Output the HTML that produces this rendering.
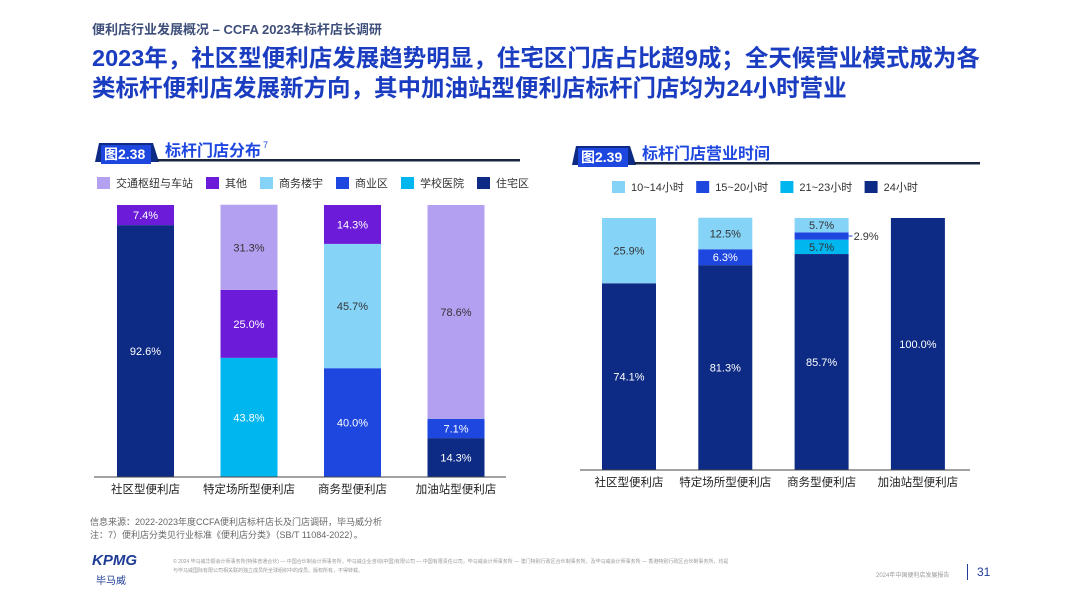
<!DOCTYPE html>
<html><head><meta charset="utf-8">
<style>
body{margin:0;width:1080px;height:608px;background:#fff;position:relative;overflow:hidden;font-family:"Liberation Sans","Noto Sans CJK SC",sans-serif;}
.abs{position:absolute;}
</style></head><body>
<div class="abs" style="left:92px;top:19px;font-size:13px;font-weight:bold;color:#3d4e7a;">便利店行业发展概况 – CCFA 2023年标杆店长调研</div>
<div class="abs" style="left:92px;top:43px;font-size:23.5px;font-weight:bold;color:#1a3cc0;line-height:30px;width:905px;">2023年，社区型便利店发展趋势明显，住宅区门店占比超9成；全天候营业模式成为各类标杆便利店发展新方向，其中加油站型便利店标杆门店均为24小时营业</div>
<svg class="abs" style="left:0;top:0" width="1080" height="608">
<g id="g1"></g><g id="g2"></g>
</svg>
<div class="abs" style="left:90px;top:516px;font-size:9px;color:#666;line-height:13px;">信息来源：2022-2023年度CCFA便利店标杆店长及门店调研，毕马威分析<br>注：7）便利店分类见行业标准《便利店分类》（SB/T 11084-2022）。</div>
<div class="abs" style="left:92px;top:552px;font-size:15px;font-weight:bold;font-style:italic;color:#1e3c96;">KPMG</div>
<div class="abs" style="left:96px;top:572px;font-size:10px;color:#1e3c96;">毕马威</div>
<div class="abs" style="left:173px;top:558px;font-size:5px;color:#999;line-height:9px;width:560px;">© 2024 毕马威华振会计师事务所(特殊普通合伙) — 中国合伙制会计师事务所，毕马威企业咨询(中国)有限公司 — 中国有限责任公司，毕马威会计师事务所 — 澳门特别行政区合伙制事务所，及毕马威会计师事务所 — 香港特别行政区合伙制事务所，均是与毕马威国际有限公司相关联的独立成员所全球组织中的成员。版权所有，不得转载。</div>
<div class="abs" style="left:876px;top:570px;font-size:6px;color:#999;">2024年中国便利店发展报告</div>
<div class="abs" style="left:967px;top:564px;width:1px;height:16px;background:#1e3c96;"></div>
<div class="abs" style="left:977px;top:565px;font-size:12px;color:#1e3c96;">31</div>
<script>
const NS="http://www.w3.org/2000/svg";
function mk(p,t,a){const e=document.createElementNS(NS,t);for(const k in a)e.setAttribute(k,a[k]);p.appendChild(e);return e;}
// Chart 1 data
const cats1=["社区型便利店","特定场所型便利店","商务型便利店","加油站型便利店"];
const series1=["住宅区","学校医院","商业区","商务楼宇","其他","交通枢纽与车站"];
const colors1=["#0d2b84","#00b6ef","#1e47e0","#86d3f8","#6c1cd9","#b4a0f0"];
const dark1=[true,true,true,false,true,false];
const v_zhuzhai=[92.6,0,0,14.3];
const v_xuexiao=[0,43.8,0,0];
const v_shangye=[0,0,40.0,7.1];
const v_shangwu=[0,0,45.7,0];
const v_qita=[7.4,25.0,14.3,0];
const v_jiaotong=[0,31.3,0,78.6];
const vals1=[v_zhuzhai,v_xuexiao,v_shangye,v_shangwu,v_qita,v_jiaotong];
const legendOrder1=[5,4,3,2,1,0];
// Chart 2 data
const cats2=["社区型便利店","特定场所型便利店","商务型便利店","加油站型便利店"];
const series2=["24小时","21~23小时","15~20小时","10~14小时"];
const colors2=["#0d2b84","#00b6ef","#1e47e0","#86d3f8"];
const dark2=[true,false,true,false];
const h24=[74.1,81.3,85.7,100.0];
const h21=[0,0,5.7,0];
const h15=[0,6.3,2.9,0];
const h10=[25.9,12.5,5.7,0];
const vals2=[h24,h21,h15,h10];
const legendOrder2=[3,2,1,0];

function header(g,x,y,w,num,title,sup){
  const b=mk(g,"path",{d:`M${x+4} ${y} L${x+58} ${y} L${x+64} ${y+19} L${x} ${y+19} Z`,fill:"#0d2b84"});
  
  mk(g,"rect",{x:x+6,y:y+2,width:50,height:19,fill:"#1e47e0"});
  const t=mk(g,"text",{x:x+9,y:y+16,fill:"#fff","font-size":14,"font-weight":"bold"});t.textContent=num;
  
  const tt=mk(g,"text",{x:x+70,y:y+13,fill:"#1e47e0","font-size":16,"font-weight":"bold"});tt.textContent=title;
  
  if(sup){const s=mk(g,"text",{x:x+168,y:y+5,fill:"#1e47e0","font-size":9});s.textContent=sup;}
  const l=mk(g,"rect",{x:x+62,y:y+16,width:w-62,height:2.5,fill:"#1a2540"});
  
}
function chart(g,o){
  const yScale=v=>o.base-v/100*o.H;
  o.cats.forEach((c,i)=>{
    const x=o.x0+i*o.step;let acc=0;
    o.vals.forEach((arr,s)=>{
      const v=arr[i];if(!v)return;
      const y1=yScale(acc+v),y0=yScale(acc);acc+=v;
      const r=mk(g,"rect",{x:x,y:y1,width:o.bw,height:y0-y1,fill:o.colors[s]});
      
      const label=v.toFixed(1)+"%";
      if(o.outside&&y0-y1<8){
        mk(g,"line",{x1:x+o.bw,y1:(y0+y1)/2,x2:x+o.bw+4,y2:(y0+y1)/2,stroke:"#1e47e0"});
        const t=mk(g,"text",{x:x+o.bw+5,y:(y0+y1)/2+4,fill:"#333","font-size":11});t.textContent=label;
        
      }else{
        const t=mk(g,"text",{x:x+o.bw/2,y:(y0+y1)/2+4,fill:o.dark[s]?"#fff":"#333","font-size":11,"text-anchor":"middle"});t.textContent=label;
        
      }
    });
    const ct=mk(g,"text",{x:x+o.bw/2,y:o.base+16,fill:"#222","font-size":11.5,"text-anchor":"middle"});ct.textContent=c;
    
  });
  const ax=mk(g,"line",{x1:o.ax0,y1:o.base,x2:o.ax1,y2:o.base,stroke:"#444","stroke-width":1});
  
  let lx=o.lx;
  o.legend.forEach(s=>{
    const r=mk(g,"rect",{x:lx,y:o.ly-6,width:13,height:12,fill:o.colors[s]});
    
    const t=mk(g,"text",{x:lx+19,y:o.ly+4,fill:"#333","font-size":11});t.textContent=o.series[s];
    
    lx+=19+o.series[s].length*o.cw+o.gap;
  });
}
const g1=document.getElementById("g1"),g2=document.getElementById("g2");
header(g1,95,143,425,"图2.38","标杆门店分布","7");
header(g2,572,146,408,"图2.39","标杆门店营业时间","");
chart(g1,{cats:cats1,vals:vals1,colors:colors1,dark:dark1,series:series1,legend:legendOrder1,x0:117,step:103.5,bw:57,base:477,H:272,ax0:94,ax1:506,lx:97,ly:183,cw:11,gap:13});
chart(g2,{cats:cats2,vals:vals2,colors:colors2,dark:dark2,series:series2,legend:legendOrder2,x0:602,step:96.3,bw:54,base:470,H:252,ax0:580,ax1:970,lx:612,ly:187,cw:7.6,gap:12,outside:true});
</script>
</body></html>
